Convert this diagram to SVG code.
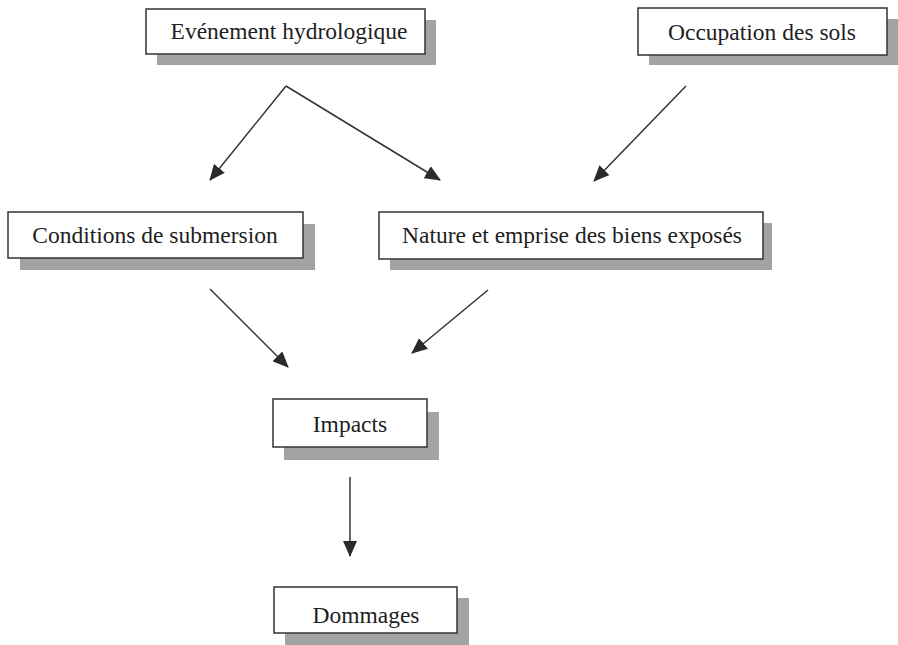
<svg xmlns="http://www.w3.org/2000/svg" width="898" height="645" viewBox="0 0 898 645">
<defs>
<style>
.box{fill:#fff;stroke:#333;stroke-width:1.5}
.sh{fill:#a3a3a3}
.t{font-family:"Liberation Serif","Times New Roman",serif;font-size:23.5px;fill:#1e1e1e;text-anchor:middle}
.c{stroke:#333;stroke-width:1.5;fill:none;marker-end:url(#ah)}
</style>
<marker id="ah" viewBox="0 0 16 14" refX="15" refY="7" markerWidth="16" markerHeight="14" markerUnits="userSpaceOnUse" orient="auto">
<path d="M0,0 L16,7 L0,14 Z" fill="#2a2a2a"/>
</marker>
</defs>
<rect width="898" height="645" fill="#fff"/>
<g id="evenement">
<rect class="sh" x="157" y="20" width="279" height="45"/>
<rect class="box" x="146" y="9" width="279" height="45"/>
<text class="t" x="289" y="39">Evénement hydrologique</text>
</g>
<g id="occupation">
<rect class="sh" x="649" y="19" width="249" height="46"/>
<rect class="box" x="638" y="8" width="249" height="47"/>
<text class="t" x="762" y="40">Occupation des sols</text>
</g>
<g id="conditions">
<rect class="sh" x="20" y="224" width="295" height="46"/>
<rect class="box" x="8" y="212" width="295" height="46"/>
<text class="t" x="155" y="243">Conditions de submersion</text>
</g>
<g id="nature">
<rect class="sh" x="390" y="223" width="382" height="47"/>
<rect class="box" x="379" y="212" width="384" height="47"/>
<text class="t" x="572" y="243">Nature et emprise des biens exposés</text>
</g>
<g id="impacts">
<rect class="sh" x="284" y="412" width="155" height="48"/>
<rect class="box" x="273" y="399" width="154" height="48"/>
<text class="t" x="350" y="432">Impacts</text>
</g>
<g id="dommages">
<rect class="sh" x="285" y="598" width="184" height="47"/>
<rect class="box" x="274" y="587" width="183" height="46"/>
<text class="t" x="366" y="623">Dommages</text>
</g>
<g id="connectors">
<path class="c" d="M286,86 L210,180"/>
<path class="c" d="M286,86 L440,180"/>
<path class="c" d="M686,86 L594,181"/>
<path class="c" d="M210,289 L288,367"/>
<path class="c" d="M488,290 L412,353"/>
<path class="c" d="M350,477 L350,556"/>
</g>
</svg>
